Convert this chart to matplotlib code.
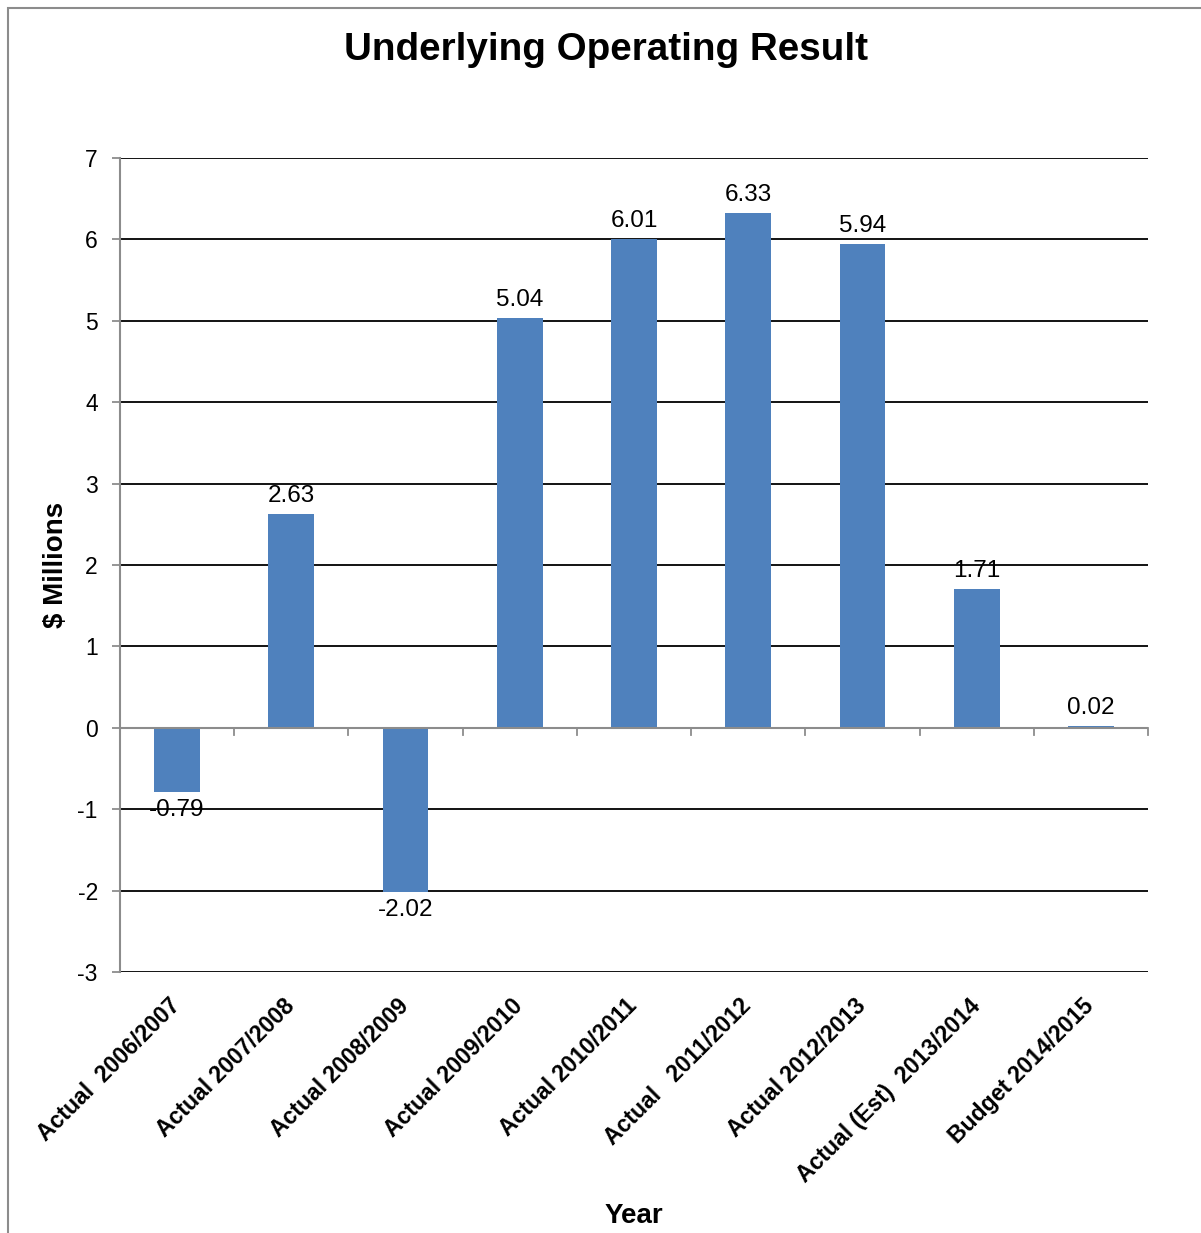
import matplotlib.pyplot as plt
from matplotlib.patches import Rectangle
from matplotlib.transforms import ScaledTranslation

plt.rcParams["font.family"] = ["Liberation Sans", "DejaVu Sans"]

years = ["Actual  2006/2007", "Actual 2007/2008", "Actual 2008/2009",
         "Actual 2009/2010", "Actual 2010/2011", "Actual   2011/2012",
         "Actual 2012/2013", "Actual (Est)  2013/2014", "Budget 2014/2015"]
result = [-0.79, 2.63, -2.02, 5.04, 6.01, 6.33, 5.94, 1.71, 0.02]
y_ticks = [-3, -2, -1, 0, 1, 2, 3, 4, 5, 6, 7]

W, H = 1201, 1233
fig = plt.figure(figsize=(W / 100, H / 100), dpi=100)

# chart border
fig.patches.append(Rectangle((8 / W, -0.1), 1.2, 1 - 8 / H + 0.1,
                             transform=fig.transFigure, fill=False,
                             edgecolor="#8c8c8c", linewidth=1.5))

ax = fig.add_axes([120 / W, 1 - 972 / H, (1148 - 120) / W, (972 - 158) / H])
n = len(years)
x = list(range(n))
ax.bar(x, result, width=0.4, color="#4F81BD", zorder=3)
ax.set_xlim(-0.5, n - 0.5)
ax.set_ylim(-3, 7)

for yt in y_ticks:
    if yt != 0:
        ax.axhline(yt, color="black", linewidth=1.3, zorder=1)
ax.axhline(0, color="#8c8c8c", linewidth=1.5, zorder=4)
for b in range(1, n + 1):
    ax.plot([b - 0.5, b - 0.5], [0, -0.09], color="#8c8c8c", linewidth=1.3,
            zorder=4, clip_on=False)

for s in ["top", "right", "bottom"]:
    ax.spines[s].set_visible(False)
ax.spines["left"].set_color("#8c8c8c")
ax.spines["left"].set_linewidth(1.5)

ax.set_yticks(y_ticks)
ax.set_yticklabels([str(v) for v in y_ticks], fontsize=16.5)
ax.tick_params(axis="y", length=6, color="#8c8c8c", width=1.3, pad=10)
ax.set_xticks(x)
ax.set_xticklabels(years, rotation=45, ha="right", va="top",
                   rotation_mode="anchor", fontsize=16.6, fontweight="bold")
ax.tick_params(axis="x", length=0, pad=16)
shift = ScaledTranslation(-6 / 72, 0, fig.dpi_scale_trans)
for lab in ax.get_xticklabels():
    lab.set_transform(lab.get_transform() + shift)

for xi, v in zip(x, result):
    if v >= 0:
        ax.annotate(f"{v:.2f}", (xi, v), xytext=(0, 5), textcoords="offset points",
                    ha="center", va="bottom", fontsize=17.5)
    else:
        ax.annotate(f"{v:.2f}", (xi, v), xytext=(0, -5), textcoords="offset points",
                    ha="center", va="top", fontsize=17.5, zorder=5)

ax.set_ylabel("$ Millions", fontsize=20, fontweight="bold", labelpad=6)
fig.text(634 / W, 1 - 1216 / H, "Year", ha="center", va="center",
         fontsize=20, fontweight="bold")
fig.text(606 / W, 1 - 50 / H, "Underlying Operating Result", ha="center",
         va="center", fontsize=27.8, fontweight="bold")

fig.savefig("out.png", dpi=100)
